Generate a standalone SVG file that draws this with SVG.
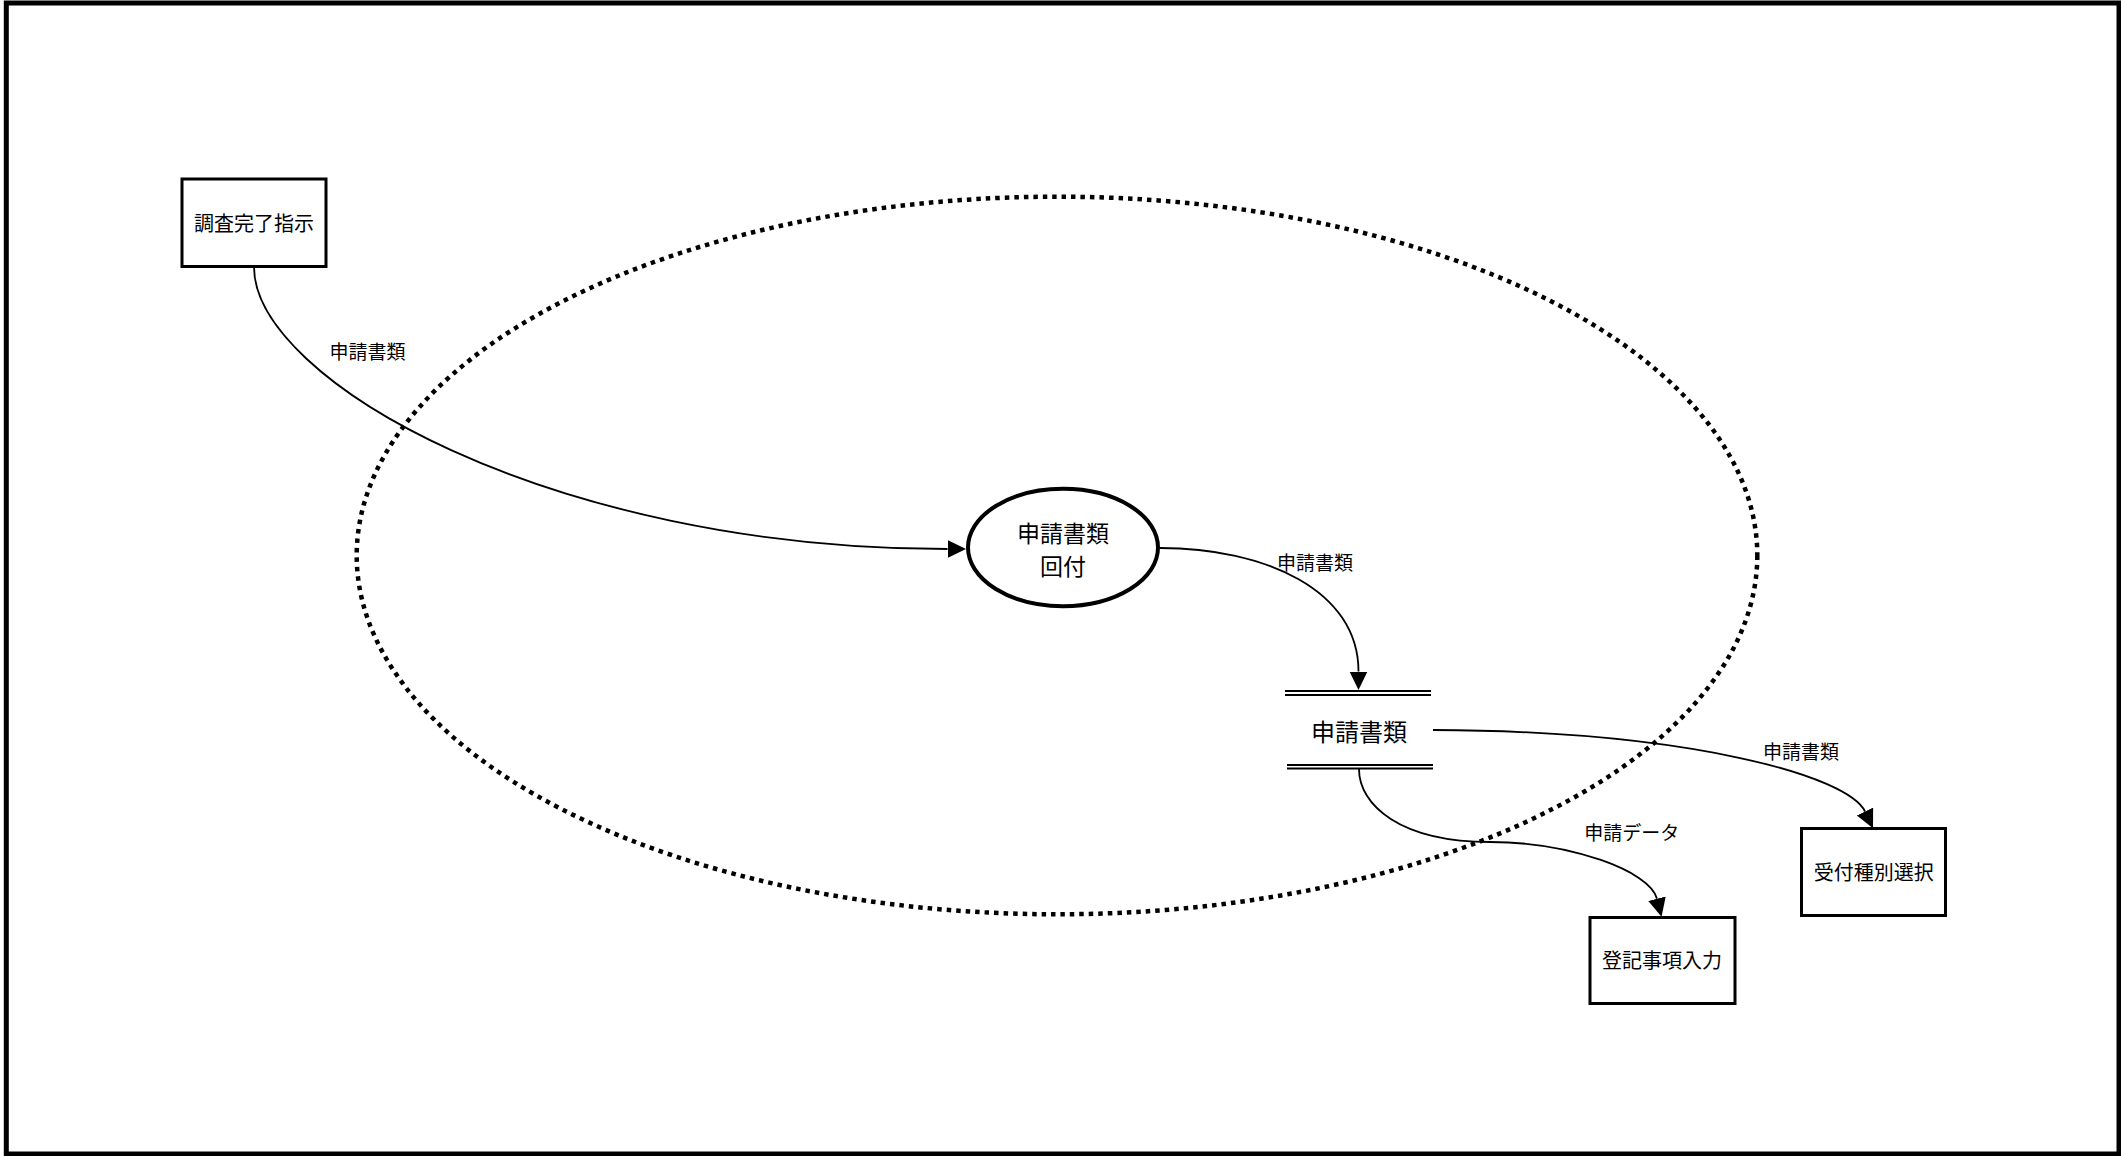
<svg xmlns="http://www.w3.org/2000/svg" width="2121" height="1156" viewBox="0 0 2121 1156">
  <style>
    text { font-family: "Noto Sans CJK JP", "Noto Sans", sans-serif; fill: #000; text-anchor: middle; dominant-baseline: central; }
    .box { fill: #fff; stroke: #000; stroke-width: 3; }
    .lbl { font-size: 19px; }
    .big { font-size: 24px; }
    .flow { fill: none; stroke: #000; stroke-width: 1.8; }
    .store { stroke: #000; stroke-width: 1.8; }
  </style>
  <defs>
    <marker id="arr" markerUnits="userSpaceOnUse" markerWidth="20" markerHeight="19" refX="0" refY="9" orient="auto" viewBox="0 0 20 19">
      <path d="M0,0 L18.5,9 L0,18 z" fill="#000"/>
    </marker>
  </defs>
  <rect x="0" y="0" width="2121" height="1156" fill="#fff"/>
  <rect id="frame" x="6.3" y="3" width="2112.7" height="1151" fill="none" stroke="#000" stroke-width="5"/>

  <g id="boundary">
    <ellipse cx="1057" cy="555.5" rx="700.3" ry="358.8" fill="none" stroke="#000" stroke-width="4.5" stroke-dasharray="4.5 5"/>
  </g>

  <g id="connectors">
    <path class="flow" d="M254,267 C254,380 550,549 947.5,549" marker-end="url(#arr)"/>
    <path class="flow" d="M1160,548 C1265,548 1358.5,590 1358.5,671.5" marker-end="url(#arr)"/>
    <path class="flow" d="M1433,730 C1690,731 1848,776 1865,811.5" marker-end="url(#arr)"/>
    <path class="flow" d="M1359,769 C1359,805 1400,842 1490,842 C1570,842 1650,871 1657,898.7" marker-end="url(#arr)"/>
    <text class="lbl" x="367.5" y="350">申請書類</text>
    <text class="lbl" x="1315" y="561.5">申請書類</text>
    <text class="lbl" x="1631.7" y="831">申請データ</text>
    <text class="lbl" x="1801" y="750">申請書類</text>
  </g>

  <g id="node-chousa">
    <rect class="box" x="182" y="179" width="144" height="87.5"/>
    <text class="lbl" x="254" y="222.7" style="font-size:20px">調査完了指示</text>
  </g>

  <g id="node-process">
    <ellipse cx="1063" cy="547.5" rx="95" ry="58.7" fill="#fff" stroke="#000" stroke-width="4"/>
    <text class="big" x="1063" y="532" style="font-size:23px"><tspan x="1063" y="531.5">申請書類</tspan><tspan x="1063" y="565">回付</tspan></text>
  </g>

  <g id="node-store">
    <line class="store" x1="1285" y1="691" x2="1431" y2="691"/>
    <line class="store" x1="1285" y1="695" x2="1431" y2="695"/>
    <line class="store" x1="1287" y1="765" x2="1433" y2="765"/>
    <line class="store" x1="1287" y1="768.5" x2="1433" y2="768.5"/>
    <text class="big" x="1359" y="730">申請書類</text>
  </g>

  <g id="node-touki">
    <rect class="box" x="1590" y="917.5" width="145" height="86"/>
    <text class="lbl" x="1662" y="959.5" style="font-size:20px">登記事項入力</text>
  </g>

  <g id="node-uketsuke">
    <rect class="box" x="1801.5" y="828.5" width="144" height="87"/>
    <text class="lbl" x="1873.7" y="871.7" style="font-size:20px">受付種別選択</text>
  </g>
</svg>
